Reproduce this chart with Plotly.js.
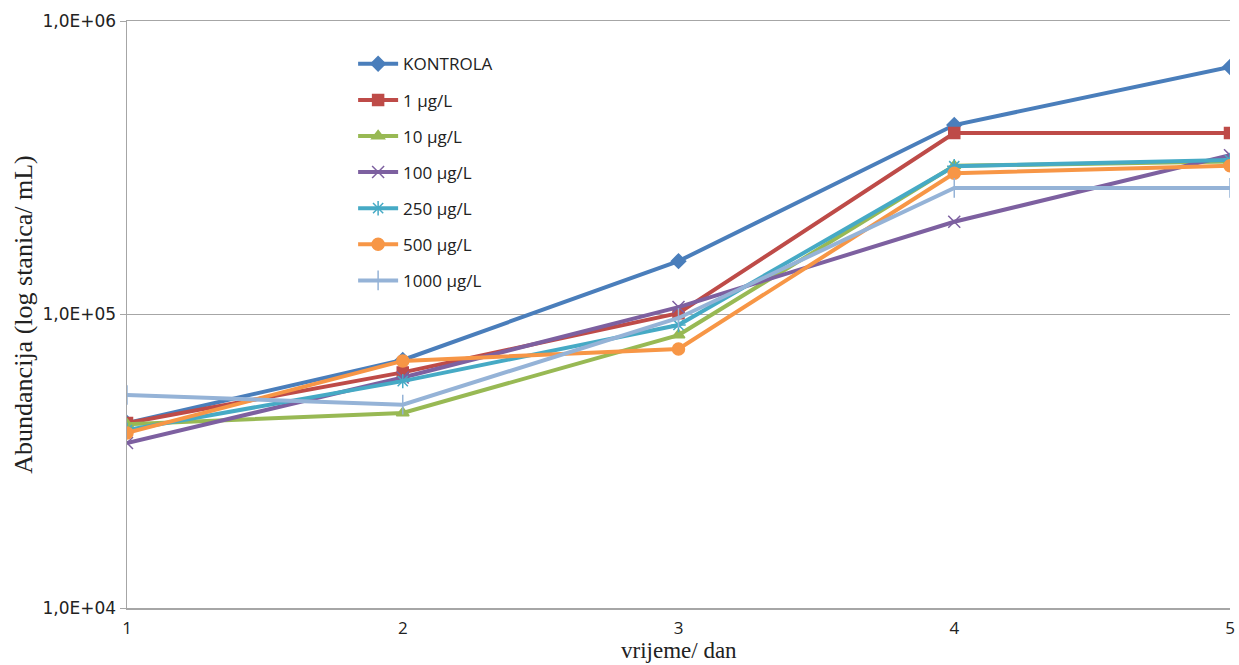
<!DOCTYPE html>
<html>
<head>
<meta charset="utf-8">
<script src="https://cdn.plot.ly/plotly-3.0.1.min.js"></script>
<style>html,body{margin:0;padding:0;background:#fff;}#chart{width:1239px;height:665px;}</style>
</head>
<body>
<div id="chart"></div>
<script>
const days = [1, 2, 3, 4, 5];
const seriesNames = ["KONTROLA", "1 µg/L", "10 µg/L", "100 µg/L", "250 µg/L", "500 µg/L", "1000 µg/L"];
const kontrola = [42700, 70000, 152000, 442000, 697000];
const c1 = [42700, 63500, 101000, 415000, 415000];
const c10 = [42300, 46200, 85100, 321000, 332000];
const c100 = [36500, 61000, 106000, 207000, 349000];
const c250 = [40400, 59300, 92100, 320000, 336000];
const c500 = [39500, 69500, 76300, 303000, 321000];
const c1000 = [53200, 49300, 97300, 270000, 270000];
const yTickVals = [10000, 100000, 1000000];
const yTickText = ["1,0E+04", "1,0E+05", "1,0E+06"];

const allValues = [kontrola, c1, c10, c100, c250, c500, c1000];
const colors = ["#4a7ebb", "#be4b48", "#98b954", "#7d60a0", "#46aac5", "#f79646", "#95b3d7"];
const symbols = ["diamond", "square", "triangle-up", "x-thin-open", "asterisk-open", "circle", "line-ns-open"];
const sizes = [11, 11, 11, 12, 12, 12, 14];

const traces = allValues.map((vals, i) => ({
  x: days, y: vals, name: seriesNames[i], type: "scatter", mode: "lines+markers",
  legendgroup: "g" + i,
  line: {color: colors[i], width: 4},
  marker: {symbol: symbols[i], size: sizes[i], color: colors[i], line: {color: colors[i], width: 1.5}}
}));

const layout = {
  width: 1239, height: 665,
  margin: {l: 127, r: 9, t: 21, b: 57},
  paper_bgcolor: "#fff", plot_bgcolor: "#fff",
  showlegend: true,
  legend: {x: 0.205, y: 0.957, xanchor: "left", yanchor: "top", bgcolor: "rgba(0,0,0,0)",
    font: {family: "Open Sans, Liberation Sans, sans-serif", size: 17, color: "#222"},
    tracegroupgap: 11, itemwidth: 40},
  xaxis: {
    range: [1, 5], tickvals: days, ticktext: days.map(String),
    showgrid: false, zeroline: false, showline: true, linecolor: "#a6a6a6", linewidth: 1.5,
    mirror: true, ticks: "", ticklabelstandoff: 4,
    tickfont: {family: "Open Sans, Liberation Sans, sans-serif", size: 17, color: "#222"}
  },
  yaxis: {
    type: "log", range: [4, 6], tickvals: yTickVals, ticktext: yTickText,
    showgrid: true, gridcolor: "#a6a6a6", gridwidth: 1, zeroline: false,
    showline: true, linecolor: "#a6a6a6", linewidth: 1.5, ticks: "outside", ticklen: 6, tickcolor: "#a6a6a6",
    tickfont: {family: "DejaVu Sans, Verdana, sans-serif", size: 17, color: "#222"},
    title: {text: "Abundancija (log stanica/ mL)", font: {family: "Liberation Serif, serif", size: 26, color: "#222"}, standoff: 2}
  },
  annotations: [{
    text: "vrijeme/ dan", xref: "paper", yref: "paper", x: 0.5, y: -0.097,
    xanchor: "center", yanchor: "bottom", showarrow: false,
    font: {family: "Liberation Serif, serif", size: 23, color: "#222"}
  }]
};

Plotly.newPlot("chart", traces, layout, {displayModeBar: false, staticPlot: true});
</script>
</body>
</html>
